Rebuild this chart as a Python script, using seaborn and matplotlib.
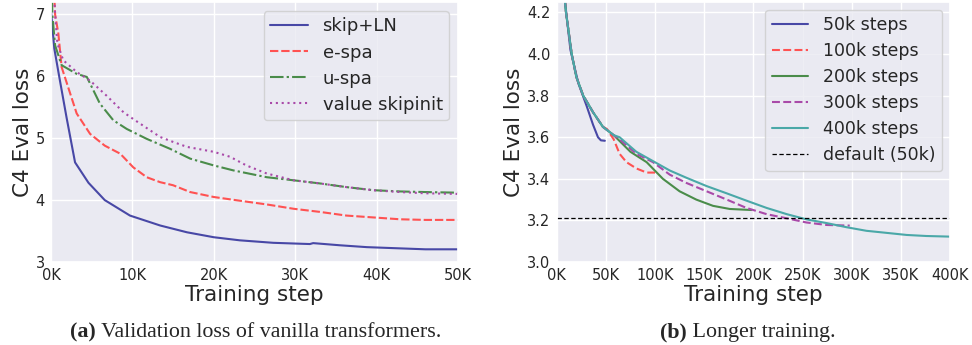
import numpy as np
import pandas as pd
import seaborn as sns
import matplotlib
matplotlib.use("Agg")
import matplotlib.pyplot as plt
from matplotlib.ticker import FuncFormatter, MultipleLocator

# ---- (a) validation loss of vanilla transformers (steps in thousands) ----
skip_ln_k = [0.0, 0.4, 1.0, 1.9, 2.95, 4.6, 6.6, 9.7, 13.4, 16.7, 20.0, 23.2, 27.3,
             31.8, 32.2, 35.5, 38.8, 42.9, 46.0, 50.0]
skip_ln_loss = [7.05, 6.45, 6.0, 5.34, 4.61, 4.28, 4.0, 3.75, 3.59, 3.48, 3.40, 3.35, 3.31,
                3.29, 3.305, 3.27, 3.24, 3.22, 3.205, 3.205]

espa_k = [0.3, 0.5, 0.9, 1.3, 3.15, 4.8, 6.6, 8.5, 10.1, 11.75, 13.4, 15.0, 17.1, 20.0,
          23.2, 26.5, 29.8, 33.0, 36.3, 39.6, 42.9, 46.0, 50.0]
espa_loss = [7.6, 7.0, 6.69, 6.15, 5.4, 5.07, 4.88, 4.75, 4.53, 4.37, 4.29, 4.24, 4.13, 4.05,
             3.99, 3.93, 3.86, 3.81, 3.75, 3.72, 3.69, 3.68, 3.68]

uspa_k = [0.1, 0.16, 0.5, 1.3, 3.15, 4.4, 6.0, 7.65, 9.3, 11.75, 14.6, 17.1, 20.0, 22.4,
          26.5, 29.8, 33.0, 36.3, 39.6, 42.9, 46.0, 50.0]
uspa_loss = [7.4, 7.0, 6.5, 6.18, 6.04, 5.99, 5.56, 5.29, 5.15, 4.99, 4.83, 4.67, 4.56, 4.48,
             4.37, 4.32, 4.27, 4.21, 4.16, 4.14, 4.13, 4.12]

vskip_k = [0.3, 0.5, 0.78, 1.5, 3.15, 4.8, 6.8, 8.9, 10.1, 13.4, 15.0, 16.7, 20.0, 22.0,
           24.0, 26.5, 29.8, 33.0, 36.3, 39.6, 42.9, 46.0, 50.0]
vskip_loss = [7.6, 7.0, 6.53, 6.26, 6.07, 5.93, 5.69, 5.42, 5.31, 5.02, 4.94, 4.86, 4.78, 4.70,
              4.56, 4.43, 4.32, 4.27, 4.21, 4.16, 4.13, 4.11, 4.10]

# ---- (b) longer training (steps in thousands) ----
run50_k = [6.0, 8.5, 14.0, 22.0, 30.5, 37.0, 42.0, 45.0, 49.0]
run50_loss = [4.40, 4.25, 4.02, 3.86, 3.75, 3.66, 3.60, 3.585, 3.583]

run100_k = [6.0, 9.5, 15.3, 20.0, 27.0, 37.0, 47.0, 51.0, 58.0, 64.0, 71.0, 81.0, 91.5, 100.0]
run100_loss = [4.38, 4.20, 4.00, 3.89, 3.80, 3.72, 3.65, 3.64, 3.59, 3.52, 3.48, 3.45, 3.43, 3.43]

run200_k = [6.0, 9.5, 15.3, 20.0, 27.0, 37.0, 47.0, 58.0, 75.0, 91.5, 108.0, 125.0, 142.0,
            159.0, 176.0, 198.0]
run200_loss = [4.38, 4.20, 4.00, 3.89, 3.80, 3.72, 3.65, 3.61, 3.53, 3.48, 3.40, 3.34, 3.30,
               3.27, 3.255, 3.25]

run300_k = [6.0, 9.5, 15.3, 20.0, 27.0, 37.0, 47.0, 58.0, 64.0, 81.0, 98.0, 115.0, 132.0,
            152.5, 173.0, 193.0, 213.5, 234.0, 254.0, 274.6, 298.0]
run300_loss = [4.38, 4.20, 4.00, 3.89, 3.80, 3.72, 3.65, 3.61, 3.59, 3.52, 3.48, 3.42, 3.38,
               3.34, 3.30, 3.26, 3.23, 3.21, 3.19, 3.178, 3.175]

run400_k = [6.0, 9.5, 15.3, 20.0, 27.0, 37.0, 47.0, 58.0, 64.0, 81.0, 98.0, 115.0, 132.0,
            152.5, 173.0, 193.0, 213.5, 234.0, 254.0, 274.6, 295.0, 315.0, 335.6, 356.0,
            376.0, 400.0]
run400_loss = [4.38, 4.20, 4.00, 3.89, 3.80, 3.72, 3.65, 3.61, 3.60, 3.53, 3.485, 3.44, 3.405,
               3.365, 3.33, 3.295, 3.26, 3.23, 3.205, 3.187, 3.167, 3.15, 3.14, 3.13,
               3.125, 3.122]

default_loss = 3.21

sns.set_theme(style="darkgrid")
plt.rcParams["font.family"] = ["DejaVu Sans"]

fig = plt.figure(figsize=(9.72, 3.45), dpi=100)
ax_a = fig.add_axes([0.0525, 0.2406, 0.4187, 0.7534])
ax_b = fig.add_axes([0.5727, 0.2406, 0.4047, 0.7534])

BLUE = "#4848a6"
RED = "#ff5252"
GREEN = "#4a8c4a"
PURPLE = "#a94aa9"
TEAL = "#4aa8a8"
LW = 1.5

# panel (a)
sns.lineplot(x=np.array(skip_ln_k) * 1000, y=skip_ln_loss, ax=ax_a, color=BLUE, lw=LW,
             label="skip+LN")
sns.lineplot(x=np.array(espa_k) * 1000, y=espa_loss, ax=ax_a, color=RED, lw=LW,
             linestyle=(0, (4, 1.4)), label="e-spa")
sns.lineplot(x=np.array(uspa_k) * 1000, y=uspa_loss, ax=ax_a, color=GREEN, lw=LW,
             linestyle=(0, (6.5, 1.5, 1.1, 1.5)), label="u-spa")
sns.lineplot(x=np.array(vskip_k) * 1000, y=vskip_loss, ax=ax_a, color=PURPLE, lw=LW,
             linestyle=(0, (1, 1.8)), label="value skipinit")
ax_a.set_xlim(0, 50000)
ax_a.set_ylim(3, 7.2)
ax_a.xaxis.set_major_locator(MultipleLocator(10000))
ax_a.yaxis.set_major_locator(MultipleLocator(1))

# panel (b)
sns.lineplot(x=np.array(run50_k) * 1000, y=run50_loss, ax=ax_b, color=BLUE, lw=LW,
             label="50k steps")
sns.lineplot(x=np.array(run100_k) * 1000, y=run100_loss, ax=ax_b, color=RED, lw=LW,
             linestyle=(0, (3.8, 1.6)), label="100k steps")
sns.lineplot(x=np.array(run200_k) * 1000, y=run200_loss, ax=ax_b, color=GREEN, lw=LW,
             label="200k steps")
sns.lineplot(x=np.array(run300_k) * 1000, y=run300_loss, ax=ax_b, color=PURPLE, lw=LW,
             linestyle=(0, (3.8, 1.6)), label="300k steps")
sns.lineplot(x=np.array(run400_k) * 1000, y=run400_loss, ax=ax_b, color=TEAL, lw=LW,
             label="400k steps")
ax_b.axhline(default_loss, color="black", lw=0.9, linestyle=(0, (3.5, 2)),
             label="default (50k)")
ax_b.set_xlim(0, 400000)
ax_b.set_ylim(3.0, 4.25)
ax_b.xaxis.set_major_locator(MultipleLocator(50000))
ax_b.yaxis.set_major_locator(MultipleLocator(0.2))
ax_b.yaxis.set_major_formatter(FuncFormatter(lambda v, _: f"{v:.1f}"))

kfmt = FuncFormatter(lambda v, _: f"{v / 1000:.0f}K")
for ax in (ax_a, ax_b):
    ax.xaxis.set_major_formatter(kfmt)
    ax.set_xlabel("Training step", fontsize=15.5, labelpad=1)
    ax.set_ylabel("C4 Eval loss", fontsize=15.5, labelpad=2)
    ax.tick_params(axis="both", labelsize=10.5, length=3, width=0.8, color="#555555",
                   pad=1.5)

ax_a.legend(loc="upper right", fontsize=13, handlelength=2.1, borderpad=0.35,
            labelspacing=0.45, handletextpad=0.8, borderaxespad=0.5)
ax_b.legend(loc="upper right", fontsize=12.5, handlelength=2.1, borderpad=0.38,
            labelspacing=0.46, handletextpad=0.85, borderaxespad=0.45)

# sub-figure captions with bold labels, centred under each panel
serif = ["Liberation Serif", "DejaVu Serif"]
fig.canvas.draw()
renderer = fig.canvas.get_renderer()
W = fig.bbox.width
base_y = 1 - 337 / 345
for cx, tag, rest in [(256, "(a)", " Validation loss of vanilla transformers."),
                      (748, "(b)", " Longer training.")]:
    t1 = fig.text(0, base_y, tag, fontsize=15.8, fontweight="bold",
                  family=serif, ha="left", va="baseline")
    t2 = fig.text(0, base_y, rest, fontsize=15.8, family=serif,
                  ha="left", va="baseline")
    w1 = t1.get_window_extent(renderer).width
    w2 = t2.get_window_extent(renderer).width
    x0 = cx - (w1 + w2) / 2
    t1.set_x(x0 / W)
    t2.set_x((x0 + w1) / W)

fig.savefig("out.png", dpi=100)
